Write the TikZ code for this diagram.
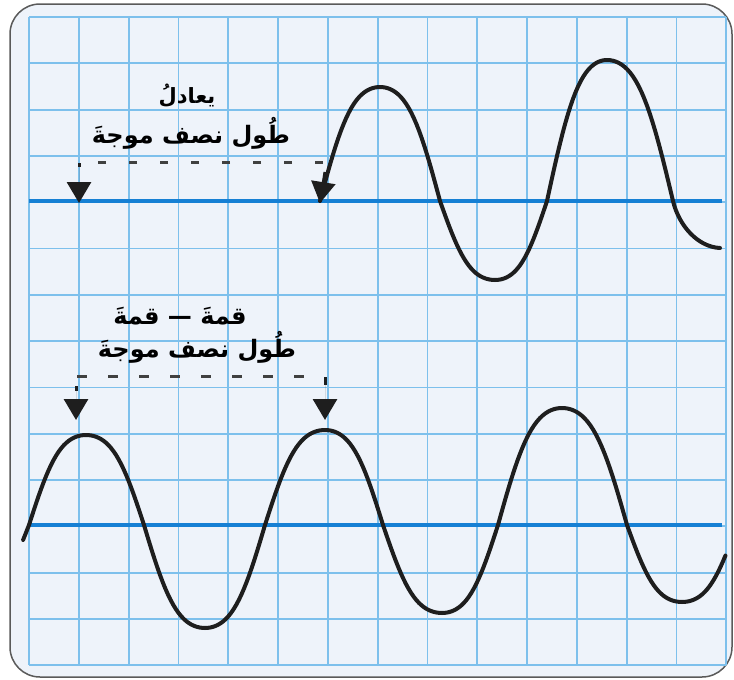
\documentclass[tikz,border=0pt]{standalone}
\usepackage{fontspec}
\newfontfamily\arabicfont[Script=Arabic]{DejaVu Sans}
\TeXXeTstate=1
\usetikzlibrary{arrows.meta}
\definecolor{bgblue}{RGB}{238,243,250}
\definecolor{framegray}{RGB}{90,90,90}
\definecolor{gridblue}{RGB}{125,192,236}
\definecolor{axisblue}{RGB}{22,128,212}
\definecolor{inkdark}{RGB}{30,30,30}
\tikzset{
  gridline/.style={draw=gridblue, line width=1.8pt},
  axisline/.style={draw=axisblue, line width=4pt},
  wave/.style={draw=inkdark, line width=4pt, line cap=round, line join=round},
  dashline/.style={draw=inkdark!85, line width=3pt, dash pattern=on 8pt off 23pt},
  tip/.style={-{Triangle[width=24pt,length=21pt]}},
  stub/.style={draw=inkdark, line width=3pt, fill=inkdark, tip},
  lbl/.style={font=\arabicfont\bfseries\fontsize{24}{28}\selectfont, text=black, inner sep=0pt},
}
% rising quarter: sin(90t)(1+0.25cos^2(90t)); falling quarter: cos(90t)(1+0.25sin^2(90t))
\begin{document}
\begin{tikzpicture}[x=1pt,y=-1pt]
\useasboundingbox (0,0) rectangle (734,680);
\fill[white] (0,0) rectangle (734,680);
\draw[fill=bgblue, draw=framegray, line width=1.5pt, rounded corners=30pt] (10,4) rectangle (732,677);
% grid
\foreach \i in {0,...,14} {\draw[gridline] ({29+49.8*\i},17) -- ({29+49.8*\i},665);}
\foreach \j in {0,...,14} {\draw[gridline] (29,{17+46.3*\j}) -- (726,{17+46.3*\j});}
% axes
\coordinate (ta0) at (29,201); \coordinate (ta1) at (722,201);
\coordinate (ba0) at (29,525); \coordinate (ba1) at (722,525);
\draw[axisline] (ta0) -- (ta1);
\draw[axisline] (ba0) -- (ba1);
% top wave
\coordinate (tw0) at (320,201);
\coordinate (twc) at (673,201);
\coordinate (twe) at (720,248);
\draw[wave] (tw0)
  \foreach \xa/\xm/\xb/\ye in {320/380/440/87, 440/495/547/280, 547/607/673/60} {
    -- plot[domain=0:1, samples=24, variable=\t] ({\xa+(\xm-\xa)*\t},{201+(\ye-201)*sin(90*\t)*(1+0.25*cos(90*\t)^2)})
    -- plot[domain=0:1, samples=24, variable=\t] ({\xm+(\xb-\xm)*\t},{201+(\ye-201)*cos(90*\t)*(1+0.25*sin(90*\t)^2)})
  }
  -- (twc) .. controls (679,226) and (698,247) .. (twe);
\coordinate (twa) at (325,172);
\coordinate (twt) at (320,203);
\draw[stub] (twa) -- (twt);
% bottom wave
\draw[wave] plot[domain=0.1:0, samples=5, variable=\t] ({29-59*\t},{525+77*sin(90*\t)*(1+0.25*cos(90*\t)^2)})
  \foreach \xa/\xm/\xb/\ye in {29/86/144/435, 144/205/265/628, 265/325/383/430, 383/442/498/613, 498/562/627/408} {
    -- plot[domain=0:1, samples=24, variable=\t] ({\xa+(\xm-\xa)*\t},{525+(\ye-525)*sin(90*\t)*(1+0.25*cos(90*\t)^2)})
    -- plot[domain=0:1, samples=24, variable=\t] ({\xm+(\xb-\xm)*\t},{525+(\ye-525)*cos(90*\t)*(1+0.25*sin(90*\t)^2)})
  }
  -- plot[domain=0:1, samples=24, variable=\t] ({627+55*\t},{525+77*sin(90*\t)*(1+0.25*cos(90*\t)^2)})
  -- plot[domain=0:0.79, samples=20, variable=\t] ({682+55*\t},{525+77*cos(90*\t)*(1+0.25*sin(90*\t)^2)});
% top measurement
\coordinate (tr) at (323,162);
\coordinate (tl) at (79,162);
\coordinate (tls) at (79,163);
\coordinate (tle) at (79,203);
\draw[dashline] (tr) -- (tl);
\draw[stub, dash pattern=on 4pt off 40pt] (tls) -- (tle);
% bottom measurement
\coordinate (bl) at (77,376);
\coordinate (br) at (305,376);
\draw[dashline, dash pattern=on 10pt off 21pt] (bl) -- (br);
\coordinate (bls) at (76,386); \coordinate (ble) at (76,420);
\coordinate (brs) at (325,377); \coordinate (bre) at (325,420);
\draw[stub, dash pattern=on 5pt off 40pt] (bls) -- (ble);
\draw[stub, dash pattern=on 8pt off 40pt] (brs) -- (bre);
% labels
\node[lbl, font=\arabicfont\bfseries\fontsize{21}{24}\selectfont] (t1) at (187,96) {\beginR يعادلُ\endR};
\node[lbl] (t2) at (191,133) {\beginR طُول نصف موجةَ\endR};
\node[lbl] (b1) at (180,316) {\beginR قمةَ — قمةَ\endR};
\node[lbl] (b2) at (197,347) {\beginR طُول نصف موجةَ\endR};
\end{tikzpicture}
\end{document}
